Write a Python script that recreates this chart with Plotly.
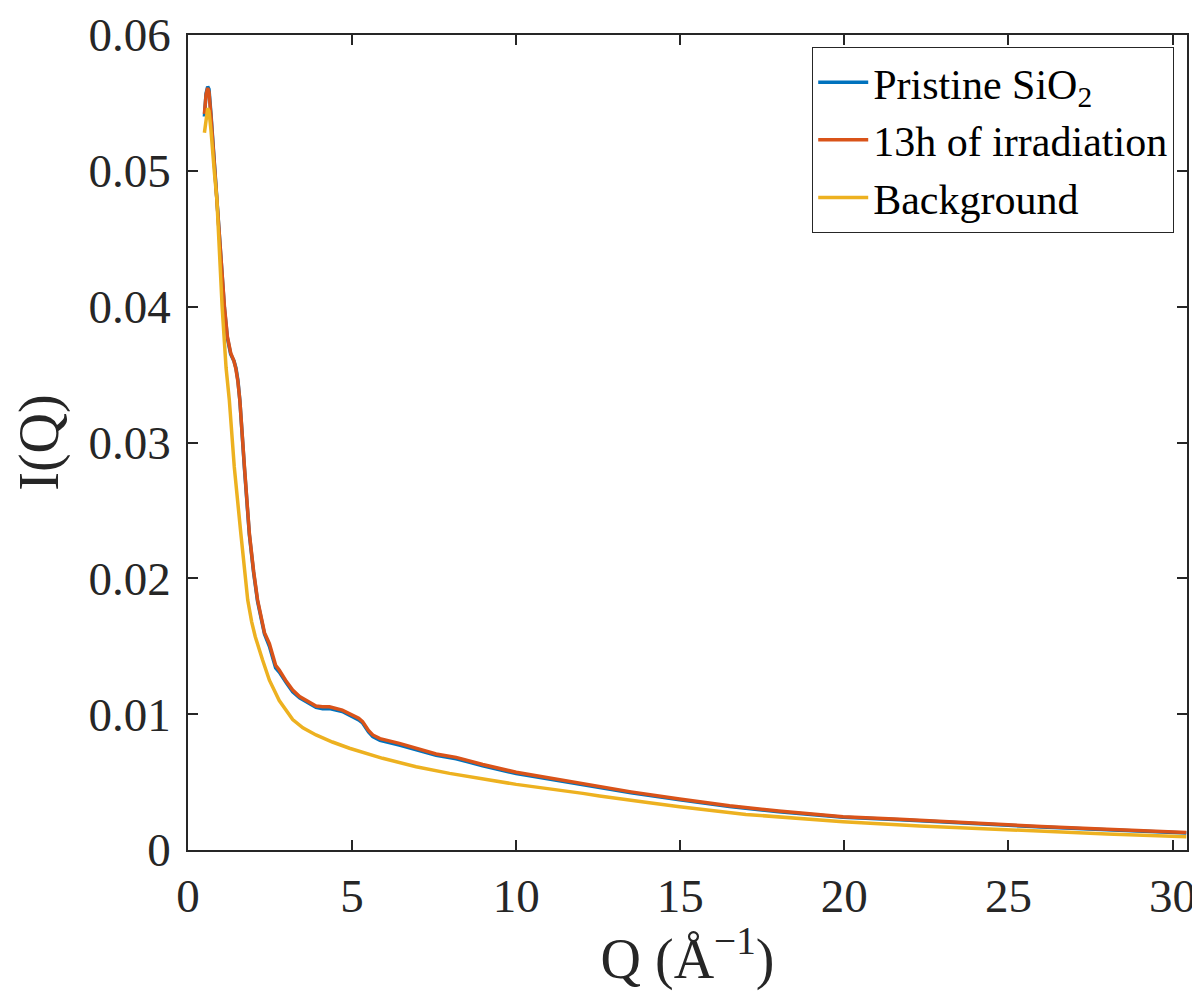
import plotly.graph_objects as go

# Q grid of the two measured samples (Å^-1)
q_sample = [0.50, 0.55, 0.60, 0.64, 0.70, 0.80, 0.90, 1.00, 1.11, 1.20, 1.30, 1.40, 1.46,
            1.52, 1.58, 1.72, 1.87, 2.00, 2.12, 2.33, 2.48, 2.67, 2.78, 3.00, 3.19, 3.40,
            3.60, 3.90, 4.10, 4.31, 4.70, 5.02, 5.20, 5.32, 5.50, 5.63, 5.85, 6.44, 6.95,
            7.56, 8.17, 8.98, 10.0, 11.0, 12.03, 12.54, 13.5, 14.98, 16.5, 18.0, 19.96,
            21.69, 24.0, 26.0, 28.0, 30.42]

i_irradiated = [0.0542, 0.0556, 0.0561, 0.0558, 0.0540, 0.0505, 0.0479, 0.0440, 0.0400,
                0.0378, 0.0366, 0.0360, 0.0354, 0.0345, 0.0331, 0.0282, 0.0233, 0.0205,
                0.0184, 0.0160, 0.0152, 0.0136, 0.01325, 0.0124, 0.01178, 0.0113, 0.0110,
                0.0106, 0.01055, 0.01055, 0.0103, 0.00994, 0.00970, 0.00945, 0.0088,
                0.00847, 0.00820, 0.00785, 0.00749, 0.00707, 0.00682, 0.00630, 0.00572,
                0.00530, 0.00491, 0.00468, 0.00428, 0.00375, 0.00325, 0.00287, 0.00245,
                0.00226, 0.00196, 0.00173, 0.00152, 0.00128]

i_pristine = [0.0540, 0.0557, 0.0562, 0.0560, 0.0542, 0.0506, 0.0479, 0.0439, 0.0399,
              0.0377, 0.0365, 0.0360, 0.0355, 0.0346, 0.0331, 0.0281, 0.0232, 0.0204,
              0.0183, 0.0159, 0.0150, 0.0134, 0.01310, 0.0123, 0.01165, 0.0112, 0.0109,
              0.0105, 0.01040, 0.01042, 0.0102, 0.00980, 0.00958, 0.00935, 0.0087,
              0.00835, 0.00808, 0.00773, 0.00738, 0.00697, 0.00672, 0.00620, 0.00563,
              0.00522, 0.00484, 0.00461, 0.00421, 0.00369, 0.00320, 0.00282, 0.00241,
              0.00222, 0.00192, 0.00170, 0.00149, 0.00125]

# Background measurement
q_background = [0.50, 0.55, 0.60, 0.64, 0.70, 0.80, 0.88, 1.04, 1.16, 1.26, 1.41, 1.61,
                1.72, 1.82, 1.94, 2.05, 2.27, 2.48, 2.78, 3.19, 3.50, 3.90, 4.40, 4.92,
                5.93, 6.95, 7.97, 10.0, 12.03, 12.54, 14.06, 14.98, 17.0, 19.96, 22.3,
                25.0, 28.0, 30.42]

i_background = [0.0528, 0.0540, 0.0546, 0.0544, 0.0530, 0.0500, 0.0479, 0.0400, 0.0355,
                0.0331, 0.0282, 0.0233, 0.0205, 0.0184, 0.0168, 0.0157, 0.0140, 0.0125,
                0.0110, 0.0096, 0.0090, 0.00847, 0.00795, 0.00749, 0.00675, 0.00613,
                0.00564, 0.00483, 0.00417, 0.00398, 0.00348, 0.00319, 0.00262, 0.00208,
                0.00177, 0.00148, 0.00118, 0.00098]

x_ticks = [0, 5, 10, 15, 20, 25, 30]
y_ticks = [0, 0.01, 0.02, 0.03, 0.04, 0.05, 0.06]
y_tick_labels = ["0", "0.01", "0.02", "0.03", "0.04", "0.05", "0.06"]

FONT = "Liberation Serif"
AX = "#262626"

fig = go.Figure()
fig.add_trace(go.Scatter(x=q_sample, y=i_pristine, mode="lines",
                         name="Pristine SiO<sub>2</sub>",
                         line=dict(color="#0072BD", width=3.5)))
fig.add_trace(go.Scatter(x=q_sample, y=i_irradiated, mode="lines",
                         name="13h of irradiation",
                         line=dict(color="#D95319", width=3.5)))
fig.add_trace(go.Scatter(x=q_background, y=i_background, mode="lines",
                         name="Background",
                         line=dict(color="#EDB120", width=3.5)))

axis_common = dict(showgrid=False, zeroline=False, showline=True, linecolor=AX,
                   linewidth=1.5, mirror="ticks", ticks="inside", ticklen=10,
                   tickwidth=1.5, tickcolor=AX, automargin=False,
                   tickfont=dict(family=FONT, size=47, color=AX))

fig.update_xaxes(range=[0, 30.44], tickvals=x_ticks, ticklabelstandoff=4,
                 title=dict(text="Q (Å<sup>−1</sup>)", standoff=12,
                            font=dict(family=FONT, size=56, color=AX)),
                 **axis_common)
fig.update_yaxes(range=[0, 0.06], tickvals=y_ticks, ticktext=y_tick_labels,
                 ticklabelstandoff=6,
                 title=dict(text="I(Q)", standoff=14,
                            font=dict(family=FONT, size=56, color=AX)),
                 **axis_common)

# page body adds an 8px offset, so the figure is sized to compensate
fig.update_layout(
    width=1192, height=983,
    margin=dict(l=180, r=13, t=27, b=141),
    plot_bgcolor="white", paper_bgcolor="white",
    legend=dict(x=0.987, y=0.985, xanchor="right", yanchor="top",
                bgcolor="white", bordercolor=AX, borderwidth=1.2,
                font=dict(family=FONT, size=42, color="#000000"),
                itemwidth=50, tracegroupgap=0),
    showlegend=True,
)

fig.write_html("out.html")
